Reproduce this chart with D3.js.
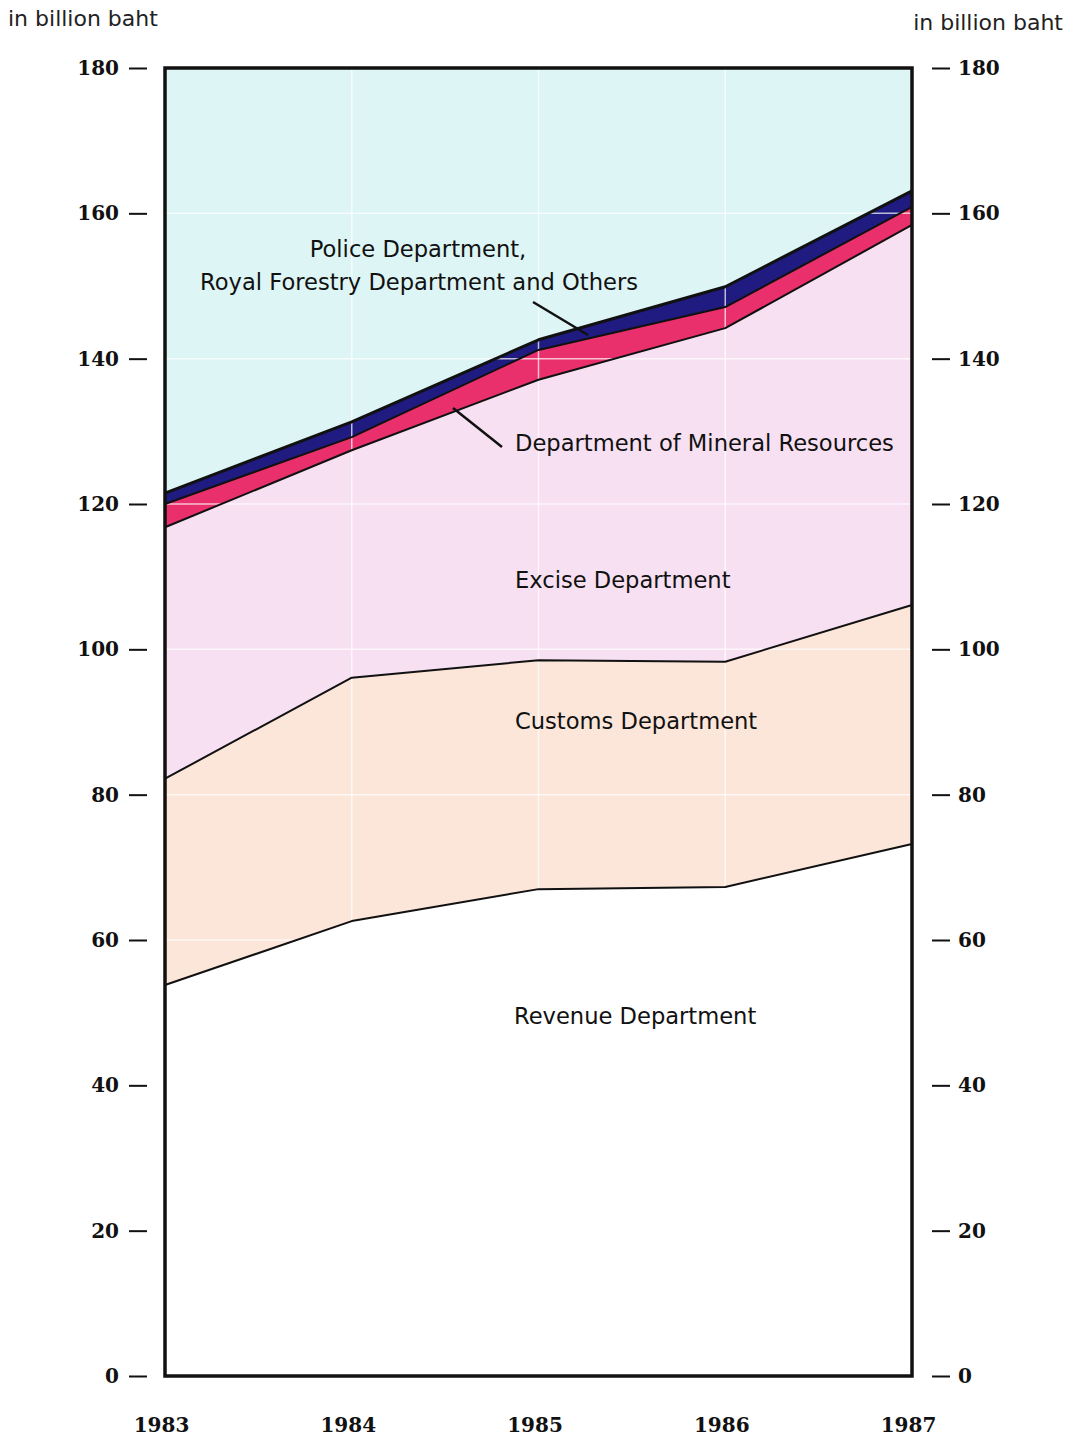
<!DOCTYPE html>
<html><head><meta charset="utf-8">
<script src="https://cdn.jsdelivr.net/npm/d3@7"></script>
<style>
html,body{margin:0;padding:0;background:#fff;}
svg{display:block;}
</style></head>
<body>
<svg id="chart" width="1078" height="1442"></svg>
<script>
const years = [1983, 1984, 1985, 1986, 1987];
const revenue = [53.8, 62.6, 67.0, 67.3, 73.2];
const customs = [28.4, 33.5, 31.5, 31.0, 32.9];
const excise  = [34.6, 31.3, 38.6, 45.9, 52.3];
const mineral = [3.2, 1.8, 4.1, 2.9, 2.5];
const police  = [1.5, 2.1, 1.4, 2.8, 2.2];
const yTicks = [0, 20, 40, 60, 80, 100, 120, 140, 160, 180];
const seriesKeys = ["revenue", "customs", "excise", "mineral", "police"];
const seriesColors = ["#ffffff", "#fbe6d9", "#f7e0f2", "#e9306c", "#1f1b80"];

const rows = years.map((yr, i) => ({year: yr, revenue: revenue[i], customs: customs[i], excise: excise[i], mineral: mineral[i], police: police[i]}));

const svg = d3.select("#chart");
const L = 165, R = 912, T = 68, B = 1376;
const x = d3.scaleLinear().domain([1983, 1987]).range([L, R]);
const y = d3.scaleLinear().domain([0, 180]).range([B, T]);

const stack = d3.stack().keys(seriesKeys)(rows);

svg.append("rect").attr("x", L).attr("y", T).attr("width", R - L).attr("height", B - T).attr("fill", "#ddf5f5");

const area = d3.area().x(d => x(d.data.year)).y0(d => y(d[0])).y1(d => y(d[1]));
const line = d3.line().x(d => x(d.data.year)).y(d => y(d[1]));

svg.append("g").selectAll("path").data(stack).join("path")
  .attr("d", area).attr("fill", (d, i) => seriesColors[i]);

const grid = svg.append("g").attr("stroke", "#ffffff").attr("stroke-opacity", 0.7).attr("stroke-width", 1.5);
grid.selectAll("line.h").data(yTicks.filter(v => v > 0 && v < 180)).join("line")
  .attr("x1", L).attr("x2", R).attr("y1", d => y(d)).attr("y2", d => y(d));
grid.selectAll("line.v").data(years.slice(1, -1)).join("line")
  .attr("x1", d => x(d)).attr("x2", d => x(d)).attr("y1", T).attr("y2", B);

svg.append("g").selectAll("path").data(stack).join("path")
  .attr("d", line).attr("fill", "none").attr("stroke", "#111")
  .attr("stroke-width", (d, i) => i === 4 ? 3 : 2).attr("stroke-linejoin", "round");

svg.append("rect").attr("x", L).attr("y", T).attr("width", R - L).attr("height", B - T)
  .attr("fill", "none").attr("stroke", "#111").attr("stroke-width", 3.5);

const serif = "'DejaVu Serif', 'Liberation Serif', serif";
const sans = "'DejaVu Sans', 'Liberation Sans', sans-serif";
const leftAxis = d3.axisLeft(y).tickValues(yTicks).tickSize(18).tickPadding(10);
const gl = svg.append("g").attr("transform", `translate(${L - 18},0)`).call(leftAxis);
const rightAxis = d3.axisRight(y).tickValues(yTicks).tickSize(18).tickPadding(8);
const gr = svg.append("g").attr("transform", `translate(${R + 20},0)`).call(rightAxis);
[gl, gr].forEach(g => {
  g.select(".domain").remove();
  g.selectAll(".tick line").attr("stroke", "#111").attr("stroke-width", 2);
  g.selectAll(".tick text").attr("fill", "#111").style("font-family", serif)
    .style("font-weight", "bold").style("font-size", "20px");
});
gl.selectAll(".tick line").attr("x1", 0).attr("x2", -18);

const xAxis = d3.axisBottom(x).tickValues(years).tickFormat(d3.format("d")).tickSize(0).tickPadding(0);
const gx = svg.append("g").attr("transform", `translate(-4,${B + 42})`).call(xAxis);
gx.select(".domain").remove();
gx.selectAll(".tick text").attr("fill", "#111").style("font-family", serif)
  .style("font-weight", "bold").style("font-size", "20px");

svg.append("text").attr("x", 8).attr("y", 26).text("in billion baht")
  .style("font-family", sans).style("font-size", "22px").attr("fill", "#222");
svg.append("text").attr("x", 1063).attr("y", 30).attr("text-anchor", "end").text("in billion baht")
  .style("font-family", sans).style("font-size", "22px").attr("fill", "#222");

const labels = [
  {t: "Police Department,", x: 418, y: 257, a: "middle"},
  {t: "Royal Forestry Department and Others", x: 419, y: 290, a: "middle"},
  {t: "Department of Mineral Resources", x: 515, y: 451, a: "start"},
  {t: "Excise Department", x: 515, y: 588, a: "start"},
  {t: "Customs Department", x: 515, y: 729, a: "start"},
  {t: "Revenue Department", x: 514, y: 1024, a: "start"}
];
svg.append("g").selectAll("text").data(labels).join("text")
  .attr("x", d => d.x).attr("y", d => d.y).attr("text-anchor", d => d.a).text(d => d.t)
  .style("font-family", sans).style("font-size", "22.6px").attr("fill", "#111");

const leaders = [[533, 302, 588, 335], [453, 408, 502, 447]];
svg.append("g").selectAll("line").data(leaders).join("line")
  .attr("x1", d => d[0]).attr("y1", d => d[1]).attr("x2", d => d[2]).attr("y2", d => d[3])
  .attr("stroke", "#111").attr("stroke-width", 2.5);
</script>
</body></html>
